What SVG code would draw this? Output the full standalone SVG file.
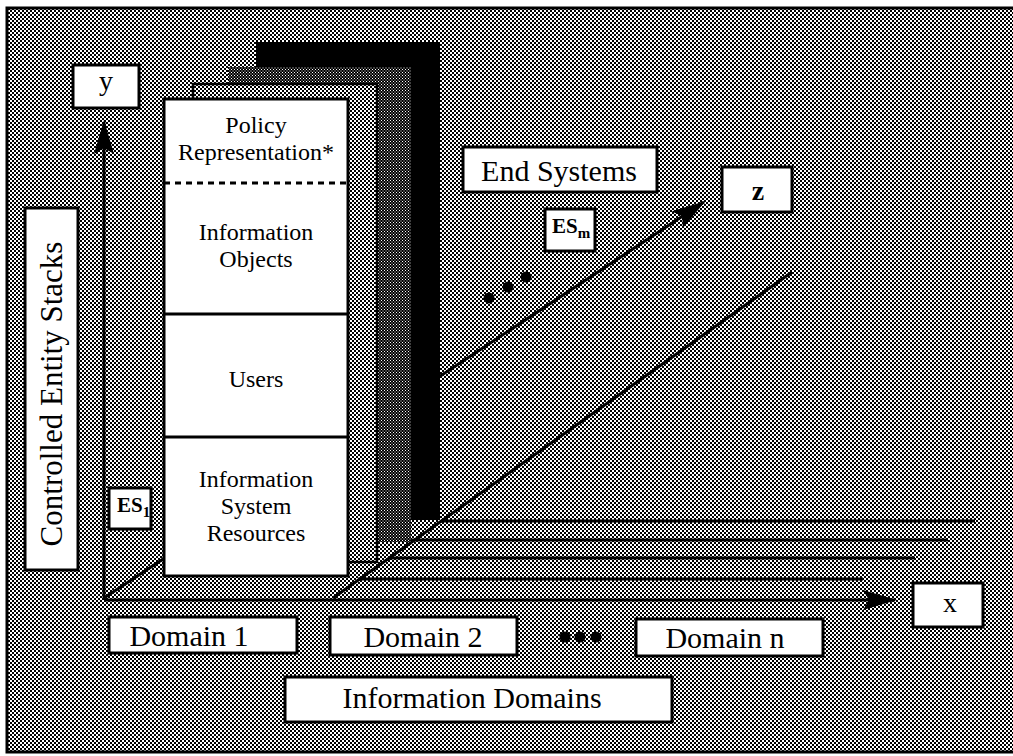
<svg xmlns="http://www.w3.org/2000/svg" width="1013" height="756" viewBox="0 0 1013 756">
  <defs>
    <!-- halftone-style fills -->
    <pattern id="checker" width="4" height="4" patternUnits="userSpaceOnUse">
      <rect width="4" height="4" fill="#ffffff"/>
      <rect width="2" height="2" fill="#000000"/>
      <rect x="2" y="2" width="2" height="2" fill="#000000"/>
    </pattern>
    <pattern id="dark" width="3" height="3" patternUnits="userSpaceOnUse">
      <rect width="3" height="3" fill="#000000"/>
      <rect width="1" height="1" fill="#ffffff"/>
      <rect x="1.5" y="1.5" width="1" height="1" fill="#ffffff"/>
    </pattern>
    <marker id="head" markerUnits="userSpaceOnUse" markerWidth="34" markerHeight="20" refX="32" refY="10" orient="auto">
      <path d="M0,0 L34,10 L0,20 L6,10 Z" fill="#000"/>
    </marker>
    <style>
      .line { stroke: #000; stroke-width: 3; fill: none; }
      .box { fill: #fff; stroke: #000; stroke-width: 3; }
      .lbl { font-family: "Liberation Serif", "Times New Roman", serif; fill: #000; text-anchor: middle; }
      .big { font-size: 30px; }
      .stack { font-size: 24px; }
      .es { font-size: 21px; font-weight: bold; text-anchor: start; }
      .sub { font-size: 15px; }
      .dot { fill: #000; }
    </style>
  </defs>

  <!-- page background and frame -->
  <rect width="1013" height="756" fill="#fff"/>
  <rect x="7" y="8" width="1010" height="744" fill="url(#checker)" stroke="#000" stroke-width="3"/>

  <!-- axes and domain lines -->
  <g id="connectors">
    <line class="line" x1="104" y1="600" x2="104" y2="122" marker-end="url(#head)"/>
    <line class="line" x1="104" y1="600" x2="895" y2="600" marker-end="url(#head)"/>
    <line class="line" x1="104" y1="598" x2="704" y2="202" marker-end="url(#head)"/>
    <line class="line" x1="333" y1="598" x2="792" y2="272"/>
    <line class="line" x1="441" y1="521" x2="975" y2="521"/>
    <line class="line" x1="411" y1="540" x2="948" y2="540"/>
    <line class="line" x1="389" y1="558" x2="915" y2="558"/>
    <line class="line" x1="358" y1="579" x2="863" y2="579"/>
  </g>

  <!-- controlled entity stacks, back to front -->
  <g id="stack-back">
    <rect x="256" y="42" width="184" height="478" fill="#000"/>
  </g>
  <g id="stack-third">
    <rect x="228" y="67" width="183" height="475" fill="url(#dark)"/>
  </g>
  <g id="stack-second">
    <rect x="193" y="84" width="184" height="478" fill="url(#checker)" stroke="#000" stroke-width="2.5"/>
  </g>
  <g id="stack-front">
    <rect class="box" x="164" y="99" width="184" height="477"/>
    <line x1="164" y1="183" x2="348" y2="183" stroke="#000" stroke-width="3" stroke-dasharray="6 5"/>
    <line class="line" x1="164" y1="314" x2="348" y2="314"/>
    <line class="line" x1="164" y1="437" x2="348" y2="437"/>
    <text class="lbl stack" x="256" y="133">Policy</text>
    <text class="lbl stack" x="256" y="160">Representation*</text>
    <text class="lbl stack" x="256" y="240">Information</text>
    <text class="lbl stack" x="256" y="267">Objects</text>
    <text class="lbl stack" x="256" y="387">Users</text>
    <text class="lbl stack" x="256" y="487">Information</text>
    <text class="lbl stack" x="256" y="514">System</text>
    <text class="lbl stack" x="256" y="541">Resources</text>
  </g>

  <!-- axis labels -->
  <g id="label-y">
    <rect class="box" x="73" y="65" width="66" height="43"/>
    <text class="lbl" x="106" y="90" font-size="28">y</text>
  </g>
  <g id="label-z">
    <rect class="box" x="722" y="167" width="70" height="45"/>
    <text class="lbl" x="758" y="200" font-size="28" font-weight="bold">z</text>
  </g>
  <g id="label-x">
    <rect class="box" x="913" y="583" width="70" height="44"/>
    <text class="lbl" x="950" y="612" font-size="28">x</text>
  </g>

  <g id="label-stacks">
    <rect class="box" x="25" y="208" width="53" height="362"/>
    <text class="lbl" font-size="31" transform="translate(62,394) rotate(-90)">Controlled Entity Stacks</text>
  </g>

  <g id="label-es1">
    <rect class="box" x="109" y="488" width="42" height="41"/>
    <text class="lbl es" x="117" y="512">ES<tspan class="sub" dy="5">1</tspan></text>
  </g>

  <g id="label-end-systems">
    <rect class="box" x="463" y="147" width="194" height="45"/>
    <text class="lbl big" x="559" y="181">End Systems</text>
  </g>

  <g id="label-esm">
    <rect class="box" x="545" y="209" width="50" height="42"/>
    <text class="lbl es" x="552" y="233">ES<tspan class="sub" dy="5">m</tspan></text>
  </g>

  <!-- ellipsis between end systems -->
  <g id="ellipsis-z">
    <circle class="dot" cx="489" cy="298" r="5.5"/>
    <circle class="dot" cx="508" cy="287" r="5.5"/>
    <circle class="dot" cx="526" cy="277" r="5.5"/>
  </g>

  <g id="domain-1">
    <rect class="box" x="109" y="617" width="188" height="36"/>
    <text class="lbl big" x="189" y="646">Domain 1</text>
  </g>
  <g id="domain-2">
    <rect class="box" x="330" y="617" width="187" height="38"/>
    <text class="lbl big" x="423" y="647">Domain 2</text>
  </g>
  <g id="ellipsis-x">
    <circle class="dot" cx="565" cy="637" r="5.5"/>
    <circle class="dot" cx="580" cy="637" r="5.5"/>
    <circle class="dot" cx="596" cy="637" r="5.5"/>
  </g>
  <g id="domain-n">
    <rect class="box" x="636" y="619" width="187" height="37"/>
    <text class="lbl big" x="725" y="648">Domain n</text>
  </g>

  <g id="label-information-domains">
    <rect class="box" x="285" y="677" width="387" height="45"/>
    <text class="lbl big" x="472" y="708">Information Domains</text>
  </g>
</svg>
